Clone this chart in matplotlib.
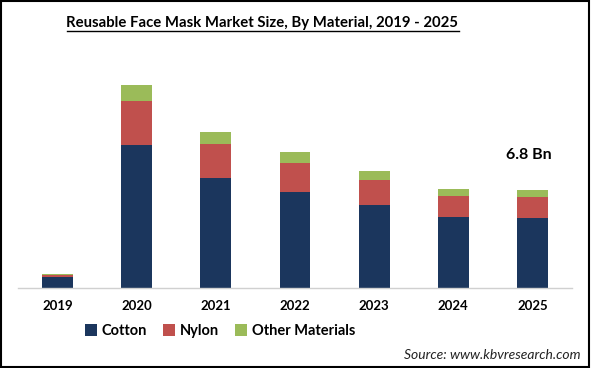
import matplotlib
matplotlib.use("Agg")
import matplotlib.pyplot as plt
from matplotlib.patches import Patch
from matplotlib.lines import Line2D
import numpy as np

years = ["2019", "2020", "2021", "2022", "2023", "2024", "2025"]
cotton = [0.78, 9.92, 7.63, 6.66, 5.76, 4.93, 4.86]
nylon = [0.12, 3.05, 2.36, 2.01, 1.73, 1.46, 1.46]
other = [0.10, 1.11, 0.83, 0.76, 0.62, 0.49, 0.48]
series_names = ["Cotton", "Nylon", "Other Materials"]
colors = ["#1B365D", "#C0504D", "#9BBB59"]
title = "Reusable Face Mask Market Size, By Material, 2019 - 2025"
annotation = "6.8 Bn"
source = "Source: www.kbvresearch.com"

plt.rcParams['font.family'] = ['Lato', 'DejaVu Sans']

fig = plt.figure(figsize=(5.91, 3.68), dpi=100)
ax = fig.add_axes([18/591, 1-288/368, 554/591, 218/368])

x = np.arange(len(years))
w = 0.39
c = np.array(cotton); n = np.array(nylon); o = np.array(other)
ax.bar(x, c, w, color=colors[0], label=series_names[0])
ax.bar(x, n, w, bottom=c, color=colors[1], label=series_names[1])
ax.bar(x, o, w, bottom=c + n, color=colors[2], label=series_names[2])

ax.set_xlim(-0.5, len(years) - 0.5)
ymax = 218 * 6.8 / 98
ax.set_ylim(0, ymax)
ax.set_xticks(x)
ax.set_xticklabels(years, fontsize=9.5, fontweight='bold')
ax.tick_params(axis='x', length=0, pad=9)
ax.set_yticks([])
for s in ['top', 'right', 'left']:
    ax.spines[s].set_visible(False)
ax.spines['bottom'].set_color('#D0D0D0')
ax.spines['bottom'].set_linewidth(1.0)

# annotation above last bar (axes-fraction placement)
ax.text((529 - 18) / 554, (288 - 155) / 218, annotation, transform=ax.transAxes,
        ha='center', va='center', fontsize=11.5, fontweight='bold')

# title with underline
t = fig.text((68 + 457) / 2 / 591, 1 - 23 / 368, title, ha='center', va='center',
             fontsize=10.7, fontweight='bold')
fig.canvas.draw()
bb = t.get_window_extent(fig.canvas.get_renderer())
fw, fh = fig.bbox.width, fig.bbox.height
uy = (bb.y0 - 1.0) / fh
fig.add_artist(Line2D([bb.x0 / fw, bb.x1 / fw], [uy, uy], color='black', lw=1.0,
                      transform=fig.transFigure))

# legend
handles = [Patch(facecolor=col, label=nm) for col, nm in zip(colors, series_names)]
fig.legend(handles=handles, loc='center left', bbox_to_anchor=(72 / 591, 1 - 331 / 368),
           ncol=3, frameon=False, handlelength=0.8, handleheight=0.8, handletextpad=0.35,
           columnspacing=1.1, prop={'weight': 'bold', 'size': 10.5})

fig.text(580 / 591, 1 - 355 / 368, source, ha='right', va='center', fontsize=10,
         style='italic', color='#222222')

# border
fig.add_artist(plt.Rectangle((0.001, 0.002), 0.996, 0.995, fill=False, edgecolor='black',
                             lw=1.5, transform=fig.transFigure))

fig.savefig("out.png", dpi=100)
